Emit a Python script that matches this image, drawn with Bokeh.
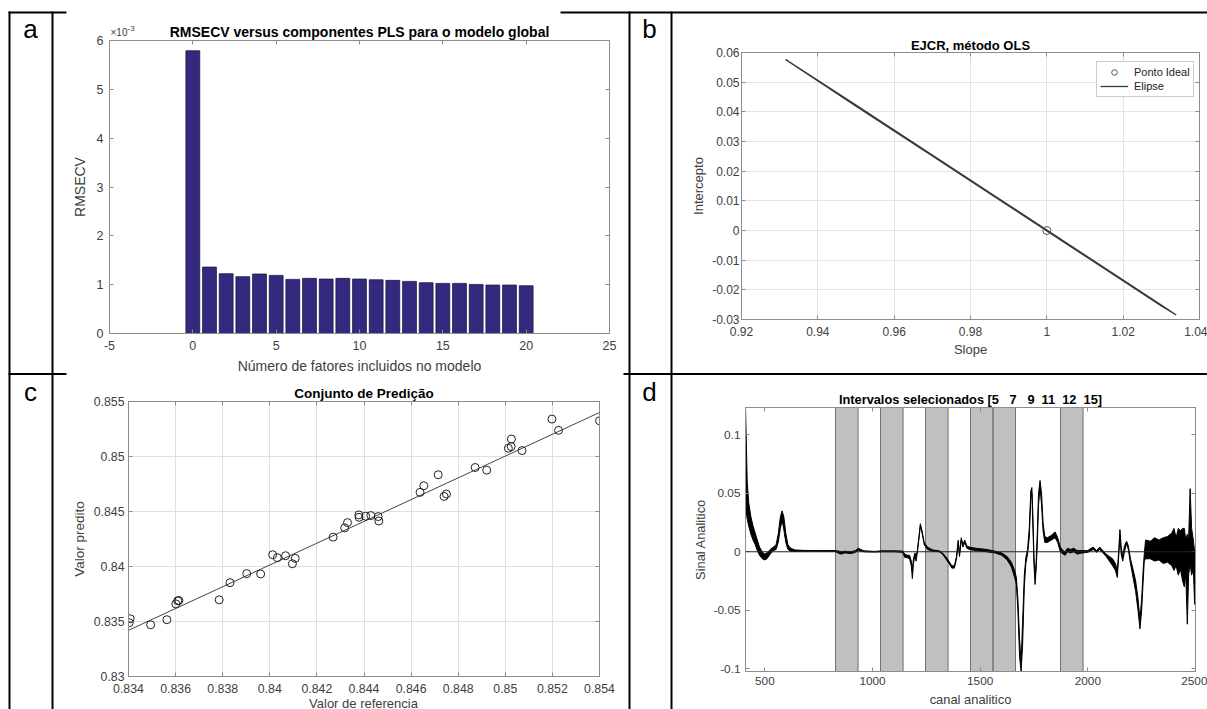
from bokeh.plotting import figure
from bokeh.models import Range1d, LinearAxis, FixedTicker, Legend, LegendItem, Span
from bokeh.embed import file_html
from bokeh.resources import INLINE
from bokeh.core.properties import value

FONT = "Liberation Sans"
AX_COL = "#8c8c8c"
TXT_COL = "#404040"

# ---------------- data: panel a ----------------
n_fatores = list(range(0, 21))
rmsecv_e3 = [5.79, 1.36, 1.224, 1.163, 1.218, 1.19, 1.108, 1.129, 1.115, 1.129, 1.115,
             1.10, 1.088, 1.067, 1.04, 1.026, 1.026, 1.005, 0.992, 0.992, 0.978]  # x 1e-3
a_xticks = [-5, 0, 5, 10, 15, 20, 25]
a_xlabels = ["-5", "0", "5", "10", "15", "20", "25"]
a_yticks = [0, 1, 2, 3, 4, 5, 6]

# ---------------- data: panel b ----------------
elipse_slope = [0.9316, 0.95, 0.97, 0.99, 1.01, 1.03, 1.0339, 1.03, 1.01, 0.99, 0.97, 0.95, 0.9316]
elipse_intercepto = [0.0576, 0.0423, 0.0254, 0.0086, -0.0083, -0.0251, -0.0285,
                     -0.0254, -0.0086, 0.0083, 0.0251, 0.0419, 0.0576]
ideal_slope = [1.0]
ideal_intercepto = [0.0]
b_xticks = [0.92, 0.94, 0.96, 0.98, 1.0, 1.02, 1.04]
b_xlabels = ["0.92", "0.94", "0.96", "0.98", "1", "1.02", "1.04"]
b_yticks = [-0.03, -0.02, -0.01, 0.0, 0.01, 0.02, 0.03, 0.04, 0.05, 0.06]
b_ylabels = ["-0.03", "-0.02", "-0.01", "0", "0.01", "0.02", "0.03", "0.04", "0.05", "0.06"]

# ---------------- data: panel c ----------------
ref = [0.83407, 0.83403, 0.83494, 0.83563, 0.83601, 0.83609, 0.83614, 0.83785, 0.83831,
       0.83902, 0.83961, 0.84012, 0.84032, 0.84067, 0.84096, 0.84108, 0.84269, 0.84318,
       0.84330, 0.84378, 0.84379, 0.84407, 0.84429, 0.84460, 0.84463, 0.84638, 0.84654,
       0.84715, 0.84740, 0.84750, 0.84872, 0.84921, 0.85013, 0.85025, 0.85026, 0.85071,
       0.85198, 0.85226, 0.85400]
pred = [0.83525, 0.83489, 0.83470, 0.83516, 0.83660, 0.83688, 0.83691, 0.83697, 0.83853,
        0.83935, 0.83932, 0.84107, 0.84080, 0.84098, 0.84025, 0.84074, 0.84267, 0.84351,
        0.84399, 0.84469, 0.84447, 0.84457, 0.84463, 0.84454, 0.84414, 0.84674, 0.84734,
        0.84834, 0.84637, 0.84659, 0.84900, 0.84876, 0.85075, 0.85090, 0.85159, 0.85054,
        0.85340, 0.85238, 0.85325]
reta_x = [0.834, 0.854]
reta_y = [0.8342, 0.8540]
c_xticks = [0.834, 0.836, 0.838, 0.840, 0.842, 0.844, 0.846, 0.848, 0.850, 0.852, 0.854]
c_xlabels = ["0.834", "0.836", "0.838", "0.84", "0.842", "0.844", "0.846", "0.848", "0.85", "0.852", "0.854"]
c_yticks = [0.83, 0.835, 0.84, 0.845, 0.85, 0.855]
c_ylabels = ["0.83", "0.835", "0.84", "0.845", "0.85", "0.855"]

# ---------------- data: panel d ----------------
intervalos = [5, 7, 9, 11, 12, 15]
int_inicio = [828, 1037, 1246, 1455, 1560, 1873]
int_fim = [933, 1142, 1351, 1560, 1664, 1978]
canal = [410, 413, 418, 425, 435, 445, 455, 465, 475, 488, 498, 510, 525, 540, 552, 562, 572,
         580, 588, 597, 607, 620, 640, 680, 760, 826, 845, 857, 870, 900, 920, 935, 945, 960,
         1010, 1040, 1100, 1140, 1150, 1160, 1172, 1180, 1185, 1190, 1197, 1202, 1208, 1215,
         1222, 1230, 1240, 1255, 1280, 1310, 1325, 1340, 1355, 1368, 1380, 1390, 1398, 1404,
         1412, 1420, 1428, 1438, 1450, 1480, 1530, 1570, 1600, 1625, 1645, 1660, 1668, 1675,
         1683, 1690, 1697, 1705, 1712, 1720, 1728, 1735, 1740, 1745, 1750, 1755, 1760, 1765,
         1771, 1778, 1785, 1792, 1800, 1812, 1830, 1848, 1860, 1872, 1885, 1895, 1905, 1920,
         1935, 1950, 1975, 2000, 2015, 2025, 2040, 2055, 2070, 2085, 2100, 2115, 2128, 2137,
         2143, 2149, 2155, 2162, 2170, 2180, 2188, 2198, 2210, 2222, 2233, 2242, 2250, 2257,
         2262, 2268, 2290, 2310, 2330, 2350, 2370, 2390, 2400, 2410, 2420, 2430, 2440, 2448,
         2455, 2462, 2468, 2475, 2482, 2490, 2496, 2500]
sinal_sup = [0.1235, 0.10, 0.06, 0.042, 0.03, 0.022, 0.016, 0.010, 0.004, 0.0, -0.002, -0.001,
             0.002, 0.004, 0.006, 0.015, 0.030, 0.035, 0.030, 0.016, 0.006, 0.003, 0.0015,
             0.0012, 0.001, 0.001, 0.0005, 0.0, 0.0005, 0.0, 0.001, 0.003, 0.002, 0.0008,
             0.0003, 0.0008, 0.0008, 0.0006, -0.002, -0.003, -0.003, -0.008, -0.015, -0.006,
             -0.001, -0.004, 0.001, 0.012, 0.024, 0.018, 0.008, 0.004, 0.0015, 0.0008, -0.001,
             -0.004, -0.008, -0.012, -0.012, -0.004, 0.010, -0.002, 0.012, 0.006, 0.010, 0.005,
             0.004, 0.003, 0.002, 0.0005, -0.001, -0.004, -0.009, -0.016, -0.022, -0.04,
             -0.075, -0.095, -0.06, -0.02, -0.005, 0.002, 0.02, 0.052, 0.055, 0.03, -0.005,
             -0.022, -0.008, 0.015, 0.05, 0.061, 0.05, 0.025, 0.013, 0.012, 0.014, 0.017,
             0.012, 0.004, 0.001, 0.0, 0.003, 0.002, 0.003, 0.001, 0.001, 0.001, 0.003, 0.004,
             0.001, 0.004, 0.001, -0.002, -0.004, -0.006, -0.010, -0.016, 0.0, 0.019, 0.004,
             -0.004, 0.005, 0.009, 0.005, -0.006, -0.015, -0.025, -0.04, -0.058, -0.04,
             -0.015, -0.002, 0.010, 0.009, 0.012, 0.010, 0.012, 0.013, 0.016, 0.020, 0.012,
             0.020, 0.018, 0.020, 0.020, 0.010, 0.015, 0.010, 0.054, 0.020, 0.010, 0.0, 0.0]
sinal_inf = [0.045, 0.035, 0.028, 0.022, 0.015, 0.010, 0.006, 0.001, -0.003, -0.006, -0.007,
             -0.006, -0.002, 0.001, 0.002, 0.008, 0.020, 0.027, 0.019, 0.008, 0.002, 0.0005,
             0.0003, 0.0004, 0.0004, 0.0003, -0.0015, -0.002, -0.001, -0.0015, -0.0005, 0.0015,
             0.0005, 0.0, -0.0003, 0.0, 0.0, -0.0005, -0.005, -0.005, -0.006, -0.012, -0.023,
             -0.010, -0.003, -0.008, -0.001, 0.010, 0.022, 0.016, 0.006, 0.002, 0.0005, 0.0,
             -0.002, -0.006, -0.010, -0.014, -0.014, -0.006, 0.008, -0.004, 0.010, 0.004, 0.008,
             0.003, 0.002, 0.001, 0.0, -0.001, -0.003, -0.007, -0.013, -0.022, -0.028, -0.05,
             -0.09, -0.1024, -0.08, -0.03, -0.01, -0.002, 0.012, 0.045, 0.05, 0.02, -0.012,
             -0.028, -0.015, 0.005, 0.04, 0.055, 0.04, 0.018, 0.008, 0.008, 0.010, 0.012, 0.008,
             0.0, -0.002, -0.003, 0.0, -0.001, 0.0, -0.002, -0.001, -0.0005, 0.001, 0.002,
             -0.0005, 0.002, -0.001, -0.004, -0.008, -0.012, -0.016, -0.022, -0.005, 0.014,
             -0.002, -0.008, 0.0, 0.007, 0.002, -0.010, -0.022, -0.034, -0.05, -0.066, -0.05,
             -0.025, -0.008, -0.006, -0.006, -0.008, -0.007, -0.010, -0.009, -0.012, -0.016,
             -0.012, -0.020, -0.015, -0.025, -0.030, -0.020, -0.062, -0.020, -0.010, -0.020,
             -0.015, -0.045, -0.010]
d_xticks = [500, 1000, 1500, 2000, 2500]
d_yticks = [-0.1, -0.05, 0.0, 0.05, 0.1]
d_ylabels = ["-0.1", "-0.05", "0", "0.05", "0.1"]


def style_axis(ax, tick_size, label_size, label_standoff, axis_standoff):
    ax.axis_line_color = AX_COL
    ax.major_tick_line_color = AX_COL
    ax.major_tick_in = 4
    ax.major_tick_out = 0
    ax.minor_tick_line_color = None
    ax.major_label_text_font = FONT
    ax.major_label_text_font_size = tick_size
    ax.major_label_text_color = TXT_COL
    ax.major_label_standoff = label_standoff
    ax.axis_label_text_font = FONT
    ax.axis_label_text_font_size = label_size
    ax.axis_label_text_font_style = "normal"
    ax.axis_label_text_color = TXT_COL
    ax.axis_label_standoff = axis_standoff


def panel(left_px, top_px, width, height, bl, br, bt, bb, xr, yr, title, title_size, title_standoff):
    p = figure(width=width, height=height, x_range=xr, y_range=yr,
               toolbar_location=None, output_backend="svg",
               min_border_left=bl, min_border_right=br,
               min_border_top=bt, min_border_bottom=bb,
               background_fill_color="white", border_fill_alpha=0,
               outline_line_color=AX_COL,
               styles={"position": "absolute", "left": f"{left_px}px", "top": f"{top_px}px"})
    p.title.text = title
    p.title.align = "center"
    p.title.text_font = FONT
    p.title.text_font_style = "bold"
    p.title.text_font_size = title_size
    p.title.text_color = "black"
    p.title.standoff = title_standoff
    return p


def box_axes(p, xticks, yticks):
    for loc, ticks in (("right", yticks), ("above", xticks)):
        ax = LinearAxis(ticker=FixedTicker(ticks=ticks))
        style_axis(ax, "1px", "1px", 0, 0)
        ax.major_label_text_color = None
        p.add_layout(ax, loc)


# ---------------- panel a ----------------
pa = panel(44, 0, 595, 393, 65, 30, 40, 60, Range1d(-5, 25), Range1d(0, 6),
           "RMSECV versus componentes PLS para o modelo global", "14px", 1)
pa.vbar(x=n_fatores, top=rmsecv_e3, width=0.83, fill_color="#33297f", line_color="#1a1a40",
        line_width=0.8)
pa.xaxis.ticker = FixedTicker(ticks=a_xticks)
pa.xaxis.major_label_overrides = dict(zip(a_xticks, a_xlabels))
pa.yaxis.ticker = FixedTicker(ticks=a_yticks)
pa.xaxis.axis_label = "Número de fatores incluidos no modelo"
pa.yaxis.axis_label = "RMSECV"
style_axis(pa.xaxis[0], "12.5px", "14px", 7, 5)
style_axis(pa.yaxis[0], "12.5px", "14px", 6, 6)
pa.grid.visible = False
box_axes(pa, a_xticks, a_yticks)

# ---------------- panel b ----------------
pb = panel(671, 0, 536, 389, 70, 8, 52, 70, Range1d(0.92, 1.04), Range1d(-0.03, 0.06),
           "EJCR, método OLS", "13px", 0)
pb.xaxis.ticker = FixedTicker(ticks=b_xticks)
pb.yaxis.ticker = FixedTicker(ticks=b_yticks)
pb.xaxis.major_label_overrides = dict(zip(b_xticks, b_xlabels))
pb.yaxis.major_label_overrides = dict(zip(b_yticks, b_ylabels))
pb.xaxis.axis_label = "Slope"
pb.yaxis.axis_label = "Intercepto"
style_axis(pb.xaxis[0], "12px", "13px", 7, 3)
style_axis(pb.yaxis[0], "12px", "13px", 2, 3)
pb.grid.grid_line_color = "#e3e3e3"
box_axes(pb, b_xticks, b_yticks)
r_elipse = pb.line(elipse_slope, elipse_intercepto, line_color="#3a3a3a", line_width=1.3)
r_ideal = pb.scatter(ideal_slope, ideal_intercepto, marker="circle", size=8,
                     fill_color=None, line_color="#555555", line_width=1)
leg = Legend(items=[LegendItem(label="Ponto Ideal", renderers=[r_ideal]),
                    LegendItem(label="Elipse", renderers=[r_elipse])],
             location=(355, 222))
leg.label_text_font = FONT
leg.label_text_font_size = "11px"
leg.label_text_color = "#222222"
leg.glyph_width = 28
leg.glyph_height = 14
leg.label_height = 14
leg.label_standoff = 6
leg.padding = 3
leg.spacing = 0
leg.margin = 0
leg.border_line_color = "#9a9a9a"
leg.background_fill_color = "white"
leg.background_fill_alpha = 1
pb.add_layout(leg)

# ---------------- panel c ----------------
pc = panel(44, 355, 585, 354, 84, 30, 46, 33, Range1d(0.834, 0.854), Range1d(0.83, 0.855),
           "Conjunto de Predição", "13.5px", 2)
pc.xaxis.ticker = FixedTicker(ticks=c_xticks)
pc.yaxis.ticker = FixedTicker(ticks=c_yticks)
pc.xaxis.major_label_overrides = dict(zip(c_xticks, c_xlabels))
pc.yaxis.major_label_overrides = dict(zip(c_yticks, c_ylabels))
pc.yaxis.axis_label = "Valor predito"
style_axis(pc.xaxis[0], "12.3px", "13.5px", 7, 3)
style_axis(pc.yaxis[0], "12.3px", "13.5px", 4, 4)
pc.grid.grid_line_color = "#e0e0e0"
box_axes(pc, c_xticks, c_yticks)
pc.line(reta_x, reta_y, line_color="#444444", line_width=1)
pc.scatter(ref, pred, marker="circle", size=8, fill_color=None, line_color="#222222",
           line_width=1)

# ---------------- panel d ----------------
ymin_d, ymax_d = -0.1025, 0.1235
pd_ = panel(671, 355, 536, 354, 74, 12, 52, 38, Range1d(410, 2500), Range1d(ymin_d, ymax_d),
            "Intervalos selecionados [5\u00a0\u00a0\u00a07\u00a0\u00a0\u00a09\u00a0\u00a011\u00a0\u00a012\u00a0\u00a015]",
            "12.8px", 1)
pd_.quad(left=int_inicio, right=int_fim, bottom=ymin_d, top=ymax_d,
         fill_color="#c0c0c0", line_color="#555555", line_width=0.8)
pd_.add_layout(Span(location=0, dimension="width", line_color="#222222", line_width=1))
pd_.varea(x=canal, y1=sinal_inf, y2=sinal_sup, fill_color="black")
pd_.line(canal, sinal_sup, line_color="black", line_width=1)
pd_.line(canal, sinal_inf, line_color="black", line_width=1)
pd_.xaxis.ticker = FixedTicker(ticks=d_xticks)
pd_.yaxis.ticker = FixedTicker(ticks=d_yticks)
pd_.yaxis.major_label_overrides = dict(zip(d_yticks, d_ylabels))
pd_.xaxis.axis_label = "canal analitico"
pd_.yaxis.axis_label = "Sinal Analitico"
style_axis(pd_.xaxis[0], "11.8px", "12.9px", 5, 4)
style_axis(pd_.yaxis[0], "11.8px", "12.9px", 5, 3)
pd_.grid.visible = False
box_axes(pd_, d_xticks, d_yticks)

# ---------------- table (background page figure) ----------------
bg = figure(width=1207, height=709, x_range=Range1d(0, 1207), y_range=Range1d(709, 0),
            toolbar_location=None, output_backend="svg", min_border=0,
            x_axis_location=None, y_axis_location=None, outline_line_color=None,
            background_fill_color="white", border_fill_color="white",
            styles={"position": "absolute", "left": "0px", "top": "0px"})
bg.grid.visible = False
bg.segment(x0=[8, 560, 9, 52, 629, 671, 8, 623],
           y0=[12, 12, 11, 11, 11, 11, 373.5, 373.5],
           x1=[66, 1207, 9, 52, 629, 671, 66, 1207],
           y1=[12, 12, 709, 709, 709, 709, 373.5, 373.5],
           line_color="black", line_width=2)
bg.text(x=[30, 649, 30, 649], y=[28, 28, 391, 391], text=["a", "b", "c", "d"],
        text_font=value(FONT), text_font_size="26px", text_align="center",
        text_baseline="middle", text_color="black")
# exponent of panel a's y axis
bg.text(x=[110], y=[31.5], text=["×10"], text_font=value(FONT), text_font_size="10px",
        text_align="left", text_baseline="middle", text_color=TXT_COL)
bg.text(x=[127], y=[27.5], text=["-3"], text_font=value(FONT), text_font_size="8px",
        text_align="left", text_baseline="middle", text_color=TXT_COL)
# x-axis title of panel c (at the lower page edge, as in the original)
bg.text(x=[363], y=[702.5], text=["Valor de referencia"], text_font=value(FONT),
        text_font_size="13px", text_align="center", text_baseline="middle",
        text_color=TXT_COL)

open("out.html", "w").write(file_html([bg, pa, pb, pc, pd_], INLINE))
